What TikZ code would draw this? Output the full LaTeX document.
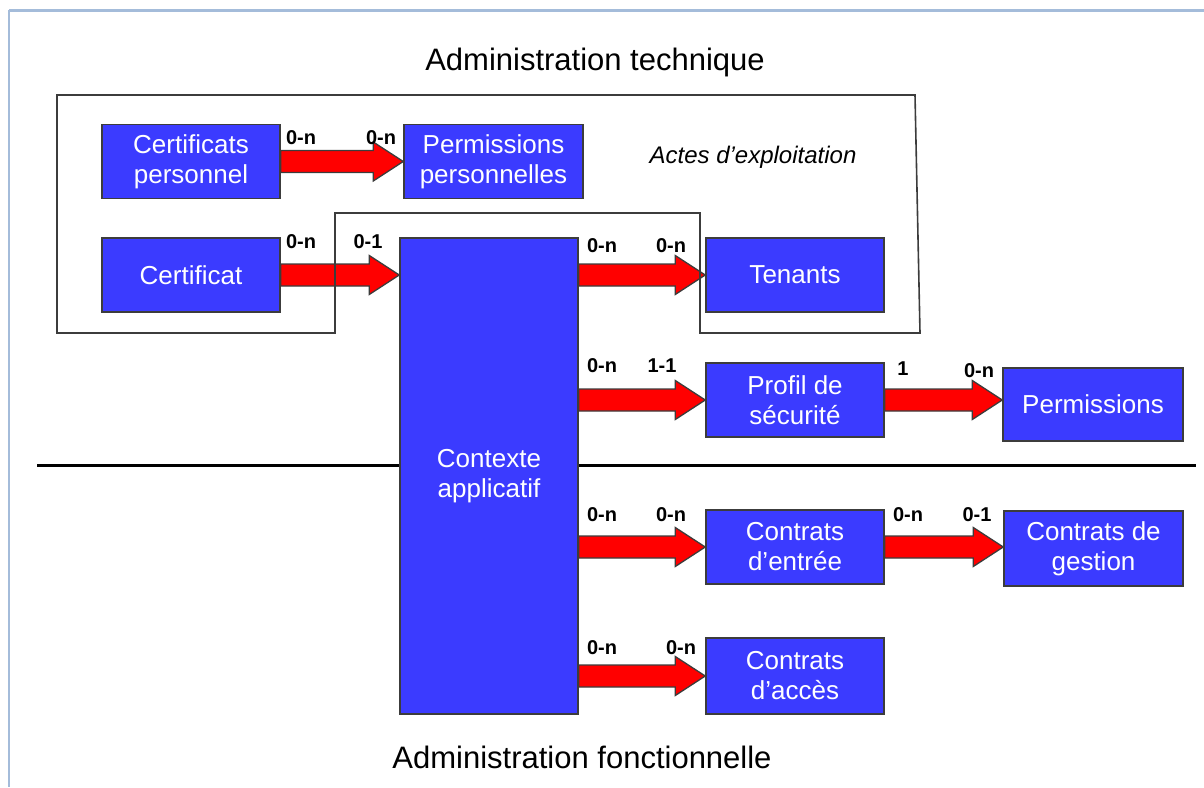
\documentclass[tikz,border=0pt]{standalone}
\usepackage{fontspec}
\setmainfont{Liberation Sans}
\usetikzlibrary{calc}
\definecolor{boxblue}{RGB}{59,59,255}
\definecolor{frameblue}{RGB}{164,188,218}
\definecolor{edgegray}{RGB}{60,60,60}
\newcommand\blockarrow[3]{%
  \draw[redarrow] let \p1=(#1.east), \p2=(#2.west), \p3=(#3.center) in
    (\x1,\y3+11pt) -- (\x2-30pt,\y3+11pt) -- (\x2-30pt,\y3+19.5pt) -- (\x2,\y3)
    -- (\x2-30pt,\y3-19.5pt) -- (\x2-30pt,\y3-11pt) -- (\x1,\y3-11pt) -- cycle;}
\begin{document}
\begin{tikzpicture}[x=1pt,y=-1pt,
  box/.style={draw=edgegray, line width=1.5pt, fill=boxblue, text=white,
    font=\fontsize{26}{30}\selectfont, align=center,
    minimum width=178pt, minimum height=74pt, inner sep=0pt},
  lbl/.style={font=\bfseries\fontsize{20}{24}\selectfont, inner sep=0pt},
  title/.style={font=\fontsize{31}{36}\selectfont, inner sep=0pt},
  redarrow/.style={fill=red, draw=edgegray, line width=1.3pt, line join=miter},
  outline/.style={draw=edgegray, line width=1.6pt, line join=miter}]
\useasboundingbox (0,0) rectangle (1204,787);
% frame
\coordinate (fTL) at (9,10);
\coordinate (fTR) at (1204,10);
\coordinate (fBL) at (9,787);
\draw[frameblue, line width=3pt] (fTL) -- (fTR);
\draw[frameblue, line width=1.5pt] (fTL) -- (fBL);
% titles
\node[title] (t1) at (595,62) {Administration technique};
\node[title] (t2) at (582,757) {Administration fonctionnelle};
\node[font=\itshape\fontsize{24}{28}\selectfont, inner sep=0pt] (actes) at (753,157) {Actes d’exploitation};
% separator
\coordinate (sepL) at (37,465);
\coordinate (sepR) at (1196,465);
\draw[line width=3pt] (sepL) -- (sepR);
% boxes
\node[box] (cp) at (191,161.5) {Certificats\\personnel};
\node[box, minimum width=179pt] (pp) at (493.5,161.5) {Permissions\\personnelles};
\node[box] (cert) at (191,275) {Certificat};
\node[box, minimum height=476pt] (ctx) at (489,476) {Contexte\\applicatif};
\node[box] (ten) at (795,275) {Tenants};
\node[box] (prof) at (795,400) {Profil de\\sécurité};
\node[box, minimum width=180pt, minimum height=73pt] (perm) at (1093,404.5) {Permissions};
\node[box] (ce) at (795,547) {Contrats\\d’entrée};
\node[box, minimum width=179pt, minimum height=75pt] (cg) at (1093.5,548.5) {Contrats de\\gestion};
\node[box, minimum height=76pt] (ca) at (795,676) {Contrats\\d’accès};
% arrows
\blockarrow{cp}{pp}{cp}
\blockarrow{cert}{ctx}{cert}
\blockarrow{ctx}{ten}{ten}
\blockarrow{ctx}{prof}{prof}
\blockarrow{prof}{perm}{prof}
\blockarrow{ctx}{ce}{ce}
\blockarrow{ce}{cg}{ce}
\blockarrow{ctx}{ca}{ca}
% cardinality labels
\node[lbl] (l1a) at (301,138) {0-n};
\node[lbl] (l1b) at (381,138) {0-n};
\node[lbl] (l2a) at (301,242) {0-n};
\node[lbl] (l2b) at (368,242) {0-1};
\node[lbl] (l3a) at (602,246) {0-n};
\node[lbl] (l3b) at (671,246) {0-n};
\node[lbl] (l4a) at (602,366) {0-n};
\node[lbl] (l4b) at (662,366) {1-1};
\node[lbl] (l5a) at (903,369) {1};
\node[lbl] (l5b) at (979,371) {0-n};
\node[lbl] (l6a) at (602,515) {0-n};
\node[lbl] (l6b) at (671,515) {0-n};
\node[lbl] (l7a) at (908,515) {0-n};
\node[lbl] (l7b) at (977,515) {0-1};
\node[lbl] (l8a) at (602,648) {0-n};
\node[lbl] (l8b) at (681,648) {0-n};
% technical administration outline
\draw[outline] (57,95) -- (915,95) -- (920,333) -- (700,333) -- (700,213)
  -- (335,213) -- (335,333) -- (57,333) -- cycle;
\end{tikzpicture}
\end{document}
